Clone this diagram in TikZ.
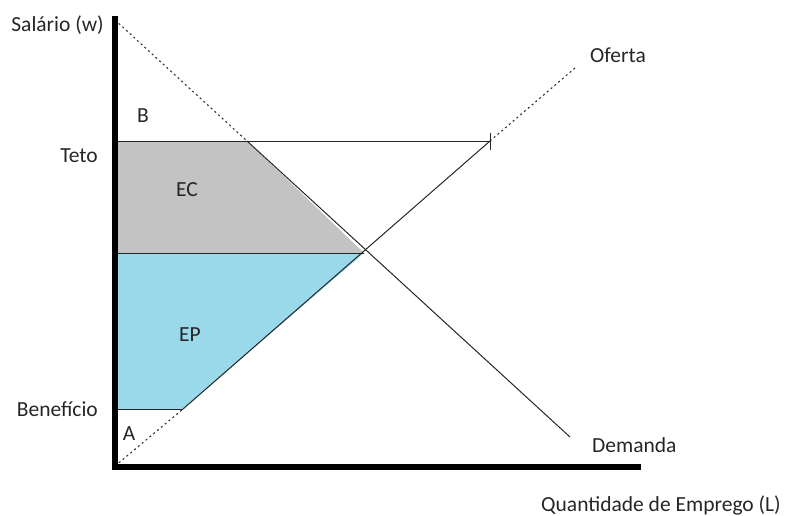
\documentclass[tikz,border=0pt]{standalone}
\usepackage{fontspec}
\setmainfont{Carlito}
\usetikzlibrary{calc}
\begin{document}
\begin{tikzpicture}[x=1pt,y=-1pt,
  lbl/.style={font=\fontsize{21.5}{24}\selectfont, text=black!85, inner sep=0pt},
  axis/.style={line width=6.5pt},
  thin/.style={line width=1pt, black!85},
  dots/.style={line width=1.1pt, black!80, dash pattern=on 2pt off 3pt}]
\useasboundingbox (0,0) rectangle (788,515);
% coordinates
\coordinate (O) at (115,466);
\coordinate (Dtop) at (115,20);
\coordinate (Dteto) at (247,141);
\coordinate (E) at (364,253);
\coordinate (Dend) at (570,437);
\coordinate (Sben) at (183,409);
\coordinate (Steto) at (490,141);
\coordinate (Send) at (575,68);
\coordinate (Ydown) at (115,141);
\coordinate (Yeq) at (115,253);
\coordinate (Yben) at (115,409);
% areas
\fill[fill={rgb,255:red,195;green,195;blue,195}] (Ydown) -- (Dteto) -- (E) -- (Yeq) -- cycle;
\fill[fill={rgb,255:red,153;green,217;blue,234}] (Yeq) -- (E) -- (Sben) -- (Yben) -- cycle;
% lines
\draw[thin] (Ydown) -- (Steto);
\draw[thin] (Yeq) -- (E);
\draw[thin] (Yben) -- (Sben);
\draw[dots] (Dtop) -- (Dteto);
\draw[thin] (Dteto) -- (Dend);
\draw[dots] (O) -- (Sben);
\draw[thin] (Sben) -- (Steto);
\draw[dots] (Steto) -- (Send);
\draw[thin] ($(Steto)+(0,-8)$) -- ($(Steto)+(0,9)$);
% axes
\coordinate (Ytop) at (115,16);
\coordinate (Xend) at (641,467);
\draw[axis] (Ytop) -- (115,470);
\draw[axis] (112,467) -- (Xend);
% labels
\node[lbl, anchor=east] (sal) at (104,25) {Salário (w)};
\node[lbl, anchor=east] (teto) at (98,156) {Teto};
\node[lbl, anchor=east] (ben) at (98,409) {Benefício};
\node[lbl] (B) at (143,116) {B};
\node[lbl] (A) at (129,434) {A};
\node[lbl] (EC) at (187,190) {EC};
\node[lbl] (EP) at (190,335) {EP};
\node[lbl, anchor=west] (of) at (590,55) {Oferta};
\node[lbl, anchor=west] (dem) at (592,445) {Demanda};
\node[lbl, anchor=west] (q) at (541,505) {Quantidade de Emprego (L)};
\end{tikzpicture}
\end{document}
